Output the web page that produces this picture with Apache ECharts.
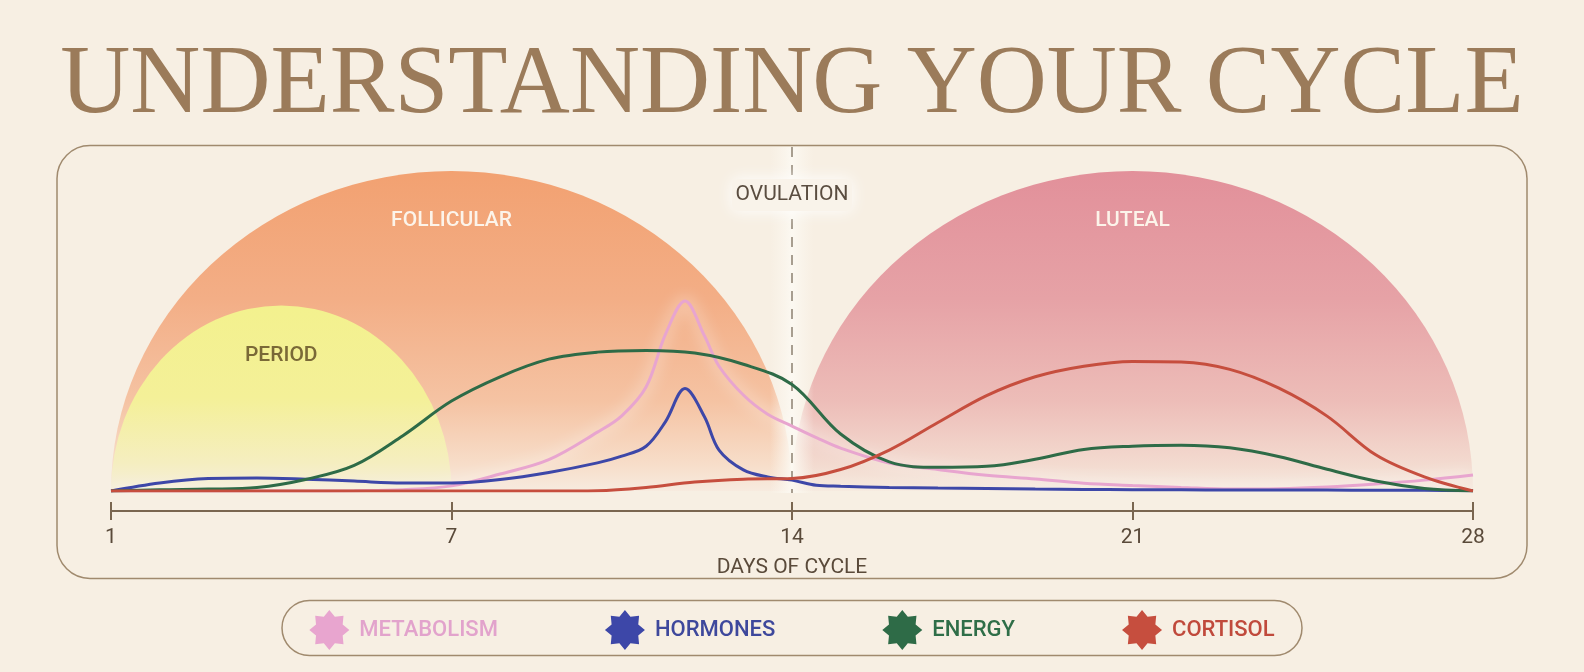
<!DOCTYPE html>
<html><head><meta charset="utf-8">
<script src="https://cdn.jsdelivr.net/npm/echarts@6/dist/echarts.min.js"></script>
<style>html,body{margin:0;padding:0;background:#F7EFE3;}#c{width:1584px;height:672px;}</style>
</head><body><div id="c"></div>
<script>
// ---- data ----
const titleText = 'UNDERSTANDING YOUR CYCLE';
const axisName = 'DAYS OF CYCLE';
const tickLabels = ['1', '7', '14', '21', '28'];
// x positions (axis runs 0..28, tick labels 1,7,14,21,28 evenly spaced)
const dayPos = [0,1,2,3,4,5,6,7,8,9,10,11,12,13,14,15,16,17,18,19,20,21,22,23,24,25,26,27,28];
const peakDayPos = [0,1,2,3,4,5,6,7,8,9,10,10.5,11,11.4,11.8,12.2,12.5,13,13.5,14,14.5,15,16,17,18,19,20,21,22,23,24,25,26,27,28];
const metabolism = [0,0,0,0,0,0.1,0.4,1.6,5.3,9.8,18.4,23.5,32.5,49,59.4,48.5,39,30,24,20.3,16.7,13.4,8.75,6.7,4.9,3.75,2.4,1.7,1.1,0.6,0.7,1.25,2.2,3.4,5];
const hormones   = [0,2.5,3.9,4.1,3.7,3.1,2.5,2.5,3.6,5.8,8.8,10.9,14,21.7,32,23.2,12.8,6.6,4.4,3.4,1.8,1.5,1.1,0.9,0.8,0.6,0.5,0.4,0.4,0.3,0.3,0.3,0.2,0.2,0.1];
const energy     = [0,0.4,0.6,1.1,3.6,8.0,17.3,28.1,35.7,41.2,43.4,43.9,43.1,39.6,33.3,17.8,9.1,7.4,7.7,9.9,13,14,14.3,13.5,10.8,6.8,3.1,0.8,0];
const cortisol   = [0,0,0,0,0,0,0,0,0,0,0.1,1.1,2.8,3.7,3.9,6.7,12.8,21.4,29.8,35.7,39,40.5,40.3,38,32.2,23.4,11.3,4.4,0];
const seriesNames = ['METABOLISM', 'HORMONES', 'ENERGY', 'CORTISOL'];
const seriesValues = [metabolism, hormones, energy, cortisol];
const seriesX = [peakDayPos, peakDayPos, dayPos, dayPos];
const phaseNames = ['FOLLICULAR', 'PERIOD', 'LUTEAL'];
const phaseStart = [0, 0, 14];
const phaseEnd = [14, 7, 28];
const phaseLevel = [100, 58, 100];
const ovulationDay = 14;
const ovulationLabel = 'OVULATION';

// ---- styles ----
const yMax = 107.5;
const lineColors = ['#E8A5CF', '#3D47A8', '#2E6B47', '#C64E3E'];
const lineSmooth = [0.35, 0.35, 0.35, 0.35];
const legendTextColors = ['#E2A3CC', '#3E489C', '#2F6E48', '#C04A3C'];
const phaseLabelColors = ['#FCF4EA', '#7A6937', '#FCF4EA'];
const G = echarts.graphic.LinearGradient;
const phaseFills = [
  new G(0,0,0,1,[{offset:0,color:'#F2A171'},{offset:0.4,color:'#F3AE86'},{offset:0.72,color:'#F5C3A3'},{offset:0.92,color:'#F7DECA'},{offset:1,color:'#F7EBDF'}]),
  new G(0,0,0,1,[{offset:0,color:'#F3F18E'},{offset:0.5,color:'#F4F098'},{offset:0.85,color:'#F5EEC0'},{offset:1,color:'#F6EEDC'}]),
  new G(0,0,0,1,[{offset:0,color:'#E2909A'},{offset:0.4,color:'#E6A2A6'},{offset:0.72,color:'#EDBDB8'},{offset:0.92,color:'#F3DBD0'},{offset:1,color:'#F6EBE0'}])
];
const starIcon = 'path://M50,0 L63.8,16.7 L85.4,14.6 L83.3,36.2 L100,50 L83.3,63.8 L85.4,85.4 L63.8,83.3 L50,100 L36.2,83.3 L14.6,85.4 L16.7,63.8 L0,50 L16.7,36.2 L14.6,14.6 L36.2,16.7 Z';
const sans = 'Roboto';

function renderPhase(params, api) {
  const i = params.dataIndex;
  const s = api.value(0), e = api.value(1), lv = api.value(2);
  const p0 = api.coord([s, 0]);
  const p1 = api.coord([e, 0]);
  const top = api.coord([(s + e) / 2, lv]);
  const rx = (p1[0] - p0[0]) / 2;
  const ry = p0[1] - top[1];
  return {
    type: 'group',
    children: [
      { type: 'path',
        shape: { pathData: 'M' + p0[0] + ' ' + p0[1] + ' A' + rx + ' ' + ry + ' 0 0 1 ' + p1[0] + ' ' + p0[1] + ' Z' },
        style: { fill: phaseFills[i] } },
      { type: 'text',
        style: { text: phaseNames[i], x: top[0], y: top[1] + 50, align: 'center', verticalAlign: 'middle',
                 fill: phaseLabelColors[i], fontSize: 21, fontFamily: sans, fontWeight: 500 } }
    ]
  };
}

function renderOvulation(params, api) {
  const top = api.coord([api.value(0), yMax]);
  const bot = api.coord([api.value(0), 0]);
  const x = top[0];
  return {
    type: 'group',
    children: [
      { type: 'rect', shape: { x: x - 22, y: top[1], width: 44, height: bot[1] - top[1] + 2 },
        style: { fill: new G(0,0,1,0,[{offset:0,color:'rgba(251,246,237,0)'},{offset:0.5,color:'rgba(252,249,242,0.95)'},{offset:1,color:'rgba(251,246,237,0)'}]) } },
      { type: 'line', shape: { x1: x, y1: top[1], x2: x, y2: bot[1] + 2 },
        style: { stroke: '#8C8070', lineWidth: 1.5, lineDash: [10, 8] } },
      { type: 'rect', shape: { x: x - 60, y: top[1] + 32, width: 120, height: 32, r: 6 },
        style: { fill: '#F9F3EA', shadowBlur: 16, shadowColor: 'rgba(255,255,255,1)' } },
      { type: 'text',
        style: { text: ovulationLabel, x: x, y: top[1] + 48, align: 'center', verticalAlign: 'middle',
                 fill: '#5A4D40', fontSize: 21, fontFamily: sans } }
    ]
  };
}

const chart = echarts.init(document.getElementById('c'), null, { renderer: 'canvas' });

const lineSeries = seriesNames.map((n, k) => ({
  name: n,
  type: 'line',
  xAxisIndex: 0,
  smooth: lineSmooth[k],
  symbol: 'none',
  silent: true,
  data: seriesX[k].map((d, i) => [d, seriesValues[k][i]]),
  itemStyle: { color: lineColors[k] },
  lineStyle: k === 0
    ? { color: lineColors[k], width: 3, shadowBlur: 16, shadowColor: 'rgba(255,255,255,1)' }
    : { color: lineColors[k], width: 3 }
}));

const axisColor = '#7A6650';
chart.setOption({
  backgroundColor: '#F7EFE3',
  animation: false,
  title: {
    text: titleText, left: 'center', top: 33,
    textStyle: { fontFamily: 'Liberation Serif', fontSize: 97, fontWeight: 'normal', color: '#9B7B5A' }
  },
  graphic: [
    { type: 'rect', z: 0, shape: { x: 57, y: 145.5, width: 1470, height: 433, r: 33 },
      style: { fill: 'none', stroke: '#A08A6E', lineWidth: 1.5 } },
    { type: 'rect', z: 0, shape: { x: 282, y: 600.5, width: 1020, height: 55, r: 27.5 },
      style: { fill: 'none', stroke: '#A08A6E', lineWidth: 1.5 } }
  ],
  legend: {
    left: 'center', top: 605,
    icon: starIcon,
    itemWidth: 40, itemHeight: 40,
    itemGap: 107,
    selectedMode: false,
    data: seriesNames.map((n, k) => ({ name: n, textStyle: { color: legendTextColors[k] } })),
    textStyle: { fontFamily: sans, fontSize: 22, fontWeight: 500, padding: [0, 0, 0, 5] }
  },
  grid: { left: 111, right: 111, top: 147, bottom: 181 },
  xAxis: [
    { type: 'value', min: 0, max: 28, interval: 7, position: 'bottom', offset: 20,
      axisLine: { show: true, onZero: false, lineStyle: { color: axisColor, width: 2 } },
      axisTick: { show: true, length: 9, lineStyle: { color: axisColor, width: 2 } },
      axisLabel: { margin: 16, color: '#5A4A3A', fontFamily: sans, fontSize: 21,
                   formatter: v => tickLabels[Math.round(v / 7)] },
      splitLine: { show: false },
      name: axisName, nameLocation: 'middle', nameGap: 46,
      nameTextStyle: { color: '#5A4A3A', fontFamily: sans, fontSize: 21 } },
    { type: 'value', min: 0, max: 28, interval: 7, position: 'bottom', offset: 20,
      axisLine: { show: false, onZero: false },
      axisTick: { show: true, inside: true, length: 9, lineStyle: { color: axisColor, width: 2 } },
      axisLabel: { show: false }, splitLine: { show: false } }
  ],
  yAxis: { type: 'value', min: 0, max: yMax, show: false, splitLine: { show: false } },
  series: [
    { type: 'custom', name: 'phases', silent: true, renderItem: renderPhase,
      encode: { x: [0, 1], y: 2 },
      data: phaseNames.map((n, i) => [phaseStart[i], phaseEnd[i], phaseLevel[i]]) },
    { type: 'custom', name: 'ovulation', silent: true, renderItem: renderOvulation,
      encode: { x: 0, y: 1 },
      data: [[ovulationDay, 0]] },
    ...lineSeries
  ]
});
</script>
</body></html>
